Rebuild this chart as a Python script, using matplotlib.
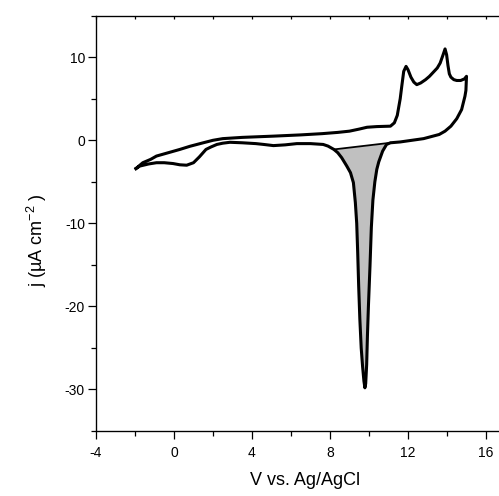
import numpy as np
import matplotlib
matplotlib.use("Agg")
import matplotlib.pyplot as plt
from matplotlib.ticker import MultipleLocator

plt.rcParams['font.family'] = ['Liberation Sans', 'DejaVu Sans']
plt.rcParams['mathtext.fontset'] = 'custom'
plt.rcParams['mathtext.rm'] = 'Liberation Sans'
plt.rcParams['mathtext.it'] = 'Liberation Sans'
plt.rcParams['axes.unicode_minus'] = False

# forward (anodic) sweep
v_fwd = [-1.95, -1.6, -1.2, -0.9, -0.3, 0.3, 0.82, 1.5, 2.0, 2.5, 3.5, 5.1, 6.5, 7.6,
         8.4, 9.0, 9.5, 9.9, 10.4, 11.1, 11.3, 11.45, 11.6, 11.68, 11.78, 11.9, 12.0,
         12.15, 12.3, 12.45, 12.65, 12.9, 13.1, 13.3, 13.5, 13.65, 13.8, 13.9, 13.98,
         14.05, 14.12, 14.2, 14.35, 14.5, 14.7, 14.9, 15.0]
j_fwd = [-3.4, -2.7, -2.3, -1.9, -1.5, -1.1, -0.72, -0.3, 0.0, 0.2, 0.35, 0.5, 0.65, 0.8,
         0.95, 1.1, 1.35, 1.57, 1.65, 1.7, 2.1, 3.0, 5.0, 6.5, 8.3, 8.9, 8.5,
         7.6, 7.0, 6.7, 6.9, 7.3, 7.7, 8.2, 8.7, 9.3, 10.3, 11.0, 10.3,
         9.0, 8.0, 7.6, 7.3, 7.2, 7.2, 7.4, 7.7]

# reverse (cathodic) sweep
v_rev = [15.0, 14.97, 14.92, 14.75, 14.5, 14.2, 13.9, 13.6, 13.2, 12.8, 12.2, 11.6,
         11.1, 10.9, 10.7, 10.5, 10.4, 10.3, 10.2, 10.12, 10.05, 9.97, 9.92, 9.88, 9.83,
         9.79, 9.74, 9.67, 9.6, 9.53, 9.47, 9.42, 9.37, 9.3, 9.2, 9.05, 8.86, 8.6, 8.4,
         8.2, 7.9, 7.65, 7.0, 6.3, 5.7, 5.1, 4.6, 4.2, 3.5, 2.87, 2.5, 2.2, 1.9, 1.64,
         1.3, 1.0, 0.65, 0.3, -0.05, -0.5, -0.9, -1.3, -1.75, -1.95]
j_rev = [7.7, 6.0, 5.3, 3.7, 2.6, 1.7, 1.1, 0.7, 0.45, 0.2, 0.0, -0.2,
         -0.3, -0.5, -1.3, -2.6, -3.5, -5.0, -7.2, -10.5, -15.2, -20.0, -23.5, -27.0, -29.3,
         -29.8, -29.0, -27.2, -25.0, -21.5, -17.5, -13.5, -10.0, -7.5, -5.1, -3.9, -3.1, -2.1, -1.5,
         -1.1, -0.7, -0.5, -0.4, -0.4, -0.55, -0.64, -0.5, -0.4, -0.3, -0.24, -0.35, -0.5, -0.8, -1.1,
         -2.0, -2.7, -3.0, -2.95, -2.8, -2.7, -2.7, -2.85, -3.1, -3.4]

# baseline used for the shaded stripping peak
base_v = [8.2, 11.1]
base_j = [-1.1, -0.3]

fig = plt.figure(figsize=(4.99, 4.96), dpi=100)
ax = fig.add_axes([96 / 499, 65 / 496, 409.5 / 499, 415.3 / 496])

v_rev_a = np.array(v_rev)
j_rev_a = np.array(j_rev)
sel = (v_rev_a >= base_v[0]) & (v_rev_a <= base_v[1])
base = np.interp(v_rev_a[sel], base_v, base_j)
ax.fill_between(v_rev_a[sel], j_rev_a[sel], base, color='#c0c0c0', lw=0)
ax.plot(base_v, base_j, color='black', lw=1.3)

ax.plot(v_fwd + v_rev, j_fwd + j_rev, color='black', lw=2.2, solid_joinstyle='round')

ax.set_xlim(-4, 17)
ax.set_ylim(-35, 15)
ax.xaxis.set_major_locator(MultipleLocator(4))
ax.xaxis.set_minor_locator(MultipleLocator(2))
ax.yaxis.set_major_locator(MultipleLocator(10))
ax.yaxis.set_minor_locator(MultipleLocator(5))

for s in ax.spines.values():
    s.set_linewidth(0.9)

ax.tick_params(axis='both', which='major', direction='out', length=6, width=0.9, labelsize=10)
ax.tick_params(axis='both', which='minor', direction='out', length=3.5, width=0.9)
ax.tick_params(axis='x', which='major', pad=5)
ax.tick_params(axis='y', which='major', pad=2)

# tiny inward ticks on the top axis
top = ax.twiny()
top.set_xlim(ax.get_xlim())
top.set_xticks(np.arange(-4, 17, 2))
top.tick_params(axis='x', direction='in', length=2.5, width=0.9, labeltop=False)

ax.set_xlabel('V vs. Ag/AgCl', fontsize=13)
ax.set_ylabel('j (µA cm$^{-2}$ )', fontsize=13)
ax.xaxis.set_label_coords(0.51, -0.098)
ax.yaxis.set_label_coords(-0.115, 0.46)

fig.savefig('out.png', dpi=100)
